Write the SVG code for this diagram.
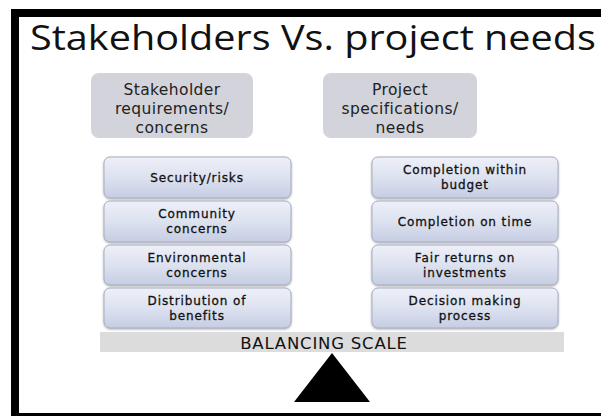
<svg xmlns="http://www.w3.org/2000/svg" width="601" height="416" viewBox="0 0 601 416">
<defs>
<linearGradient id="itemGrad" x1="0" y1="0" x2="0" y2="1">
<stop offset="0" stop-color="#eef0f8"/>
<stop offset="0.5" stop-color="#dde2f0"/>
<stop offset="1" stop-color="#c6cde3"/>
</linearGradient>
<filter id="sh" x="-10%" y="-10%" width="120%" height="130%">
<feDropShadow dx="0" dy="1" stdDeviation="1" flood-color="#808080" flood-opacity="0.6"/>
</filter>
</defs>
<style>
text{font-family:"DejaVu Sans","Open Sans",sans-serif;fill:#1a1a1a;text-anchor:middle}
.title{font-family:"Open Sans","DejaVu Sans",sans-serif;font-size:35px;text-anchor:start;fill:#111}
.hdr rect{fill:#d3d3db}
.hdr text{font-size:15.5px;letter-spacing:0.4px;fill:#222}
.item rect{fill:url(#itemGrad);stroke:#a8aec0;stroke-width:1;filter:url(#sh)}
.item text{font-size:12px;letter-spacing:0.9px;fill:#111;stroke:#111;stroke-width:0.3px}
.frame{fill:#000}
</style>
<rect width="601" height="416" fill="#fff"/>
<g id="frame">
<rect class="frame" x="11" y="9" width="590" height="8"/>
<rect class="frame" x="11" y="9" width="8" height="407"/>
<rect class="frame" x="11" y="413" width="590" height="3"/>
</g>
<text class="title" x="30" y="50" textLength="566" lengthAdjust="spacingAndGlyphs">Stakeholders Vs. project needs</text>
<g id="hdr-left" class="hdr">
<rect x="91" y="73" width="162" height="65" rx="8"/>
<text x="172" y="95">Stakeholder</text>
<text x="172" y="114">requirements/</text>
<text x="172" y="133">concerns</text>
</g>
<g id="hdr-right" class="hdr">
<rect x="323" y="73" width="154" height="65" rx="8"/>
<text x="400" y="95">Project</text>
<text x="400" y="114">specifications/</text>
<text x="400" y="133">needs</text>
</g>
<g id="l1" class="item">
<rect x="104" y="157" width="187" height="41" rx="6"/>
<text x="197" y="182">Security/risks</text>
</g>
<g id="l2" class="item">
<rect x="104" y="201" width="187" height="41" rx="6"/>
<text x="197" y="218">Community</text>
<text x="197" y="233">concerns</text>
</g>
<g id="l3" class="item">
<rect x="104" y="245" width="187" height="40" rx="6"/>
<text x="197" y="262">Environmental</text>
<text x="197" y="277">concerns</text>
</g>
<g id="l4" class="item">
<rect x="104" y="288" width="187" height="40" rx="6"/>
<text x="197" y="305">Distribution of</text>
<text x="197" y="320">benefits</text>
</g>
<g id="r1" class="item">
<rect x="372" y="157" width="186" height="41" rx="6"/>
<text x="465" y="174">Completion within</text>
<text x="465" y="189">budget</text>
</g>
<g id="r2" class="item">
<rect x="372" y="201" width="186" height="41" rx="6"/>
<text x="465" y="226">Completion on time</text>
</g>
<g id="r3" class="item">
<rect x="372" y="245" width="186" height="40" rx="6"/>
<text x="465" y="262">Fair returns on</text>
<text x="465" y="277">investments</text>
</g>
<g id="r4" class="item">
<rect x="372" y="288" width="186" height="40" rx="6"/>
<text x="465" y="305">Decision making</text>
<text x="465" y="320">process</text>
</g>
<g id="scale">
<rect x="100" y="332" width="464" height="20" fill="#dcdcdc"/>
<text x="324" y="349" style="font-size:16.5px;letter-spacing:0.8px;fill:#111">BALANCING SCALE</text>
</g>
<g id="fulcrum">
<polygon points="332,353 294,402 370,402" fill="#000"/>
</g>
<g id="connectors"></g>
</svg>
